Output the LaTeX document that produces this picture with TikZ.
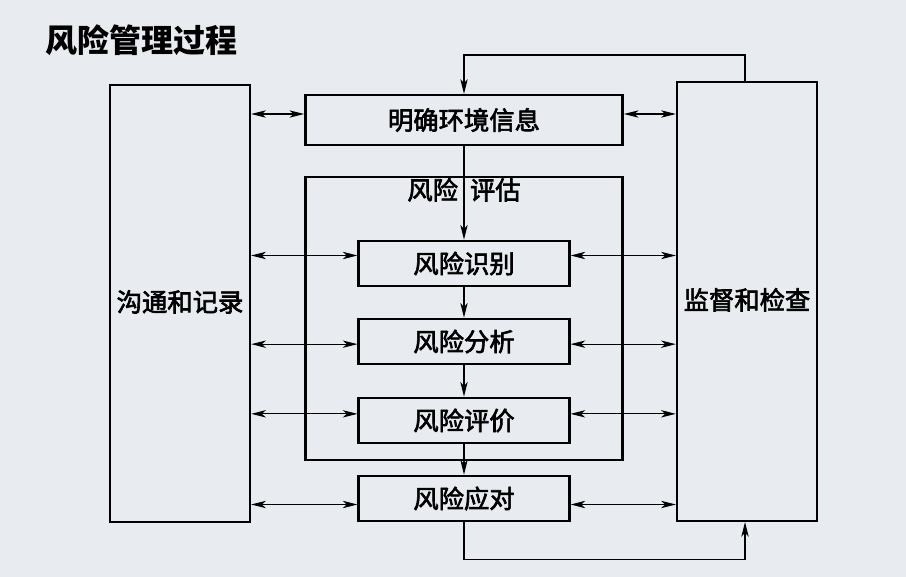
\documentclass[tikz,border=0pt]{standalone}
\usepackage{fontspec}
\setmainfont{Noto Sans CJK SC}
\newfontfamily\boxfont{Noto Sans CJK SC}[FakeBold=2.5]
\usetikzlibrary{arrows.meta}
\definecolor{bgcol}{RGB}{232,235,240}
\tikzset{
  box/.style={draw, line width=1.8pt, inner sep=0pt, font=\boxfont\fontsize{19}{22}\selectfont},
  stepbox/.style={box, minimum width=158pt, minimum height=34pt},
  sidebox/.style={box, minimum width=105pt, minimum height=328pt},
  tip/.tip={Stealth[length=11pt,width=5.5pt,inset=3pt]},
  linkarrow/.style={line width=0.9pt, tip-tip},
  flowarrow/.style={line width=0.9pt, -tip},
}
\begin{document}
\begin{tikzpicture}[x=0.75pt,y=0.75pt,yscale=-1,xscale=1]
\useasboundingbox[fill=bgcol] (0,0) rectangle (906,577);

% Title
\node (title) [anchor=west, inner sep=0pt, font=\fontsize{24}{28}\selectfont\bfseries] at (45,40) {风险管理过程};

% Side boxes
\node (com) [sidebox] at (180,303.5) {\raisebox{4pt}{沟通和记录}};
\node (mon) [sidebox, minimum height=329pt] at (747,301.5) {\raisebox{4pt}{监督和检查}};

% Context box
\node (ctx) [box, minimum width=238pt, minimum height=37.5pt] at (464,120) {明确环境信息};

% Risk assessment frame
\node (asmt) [draw, line width=1.8pt, minimum width=237.75pt, minimum height=212.25pt] at (464,318.5) {};
\node (asmtlabel) [anchor=north, inner sep=1.5pt, font=\boxfont\fontsize{19}{22}\selectfont] at (asmt.north) {风险\hspace{9pt}评估};

% Steps
\node (idf) [stepbox] at (464,263.5) {风险识别};
\node (ana) [stepbox] at (464,341.5) {风险分析};
\node (eva) [stepbox] at (464,420.5) {风险评价};
\node (res) [stepbox] at (464,498.5) {风险应对};

% Main flow
\draw [flowarrow] (ctx.south) -- (idf.north);
\draw [flowarrow] (idf.south) -- (ana.north);
\draw [flowarrow] (ana.south) -- (eva.north);
\draw [flowarrow] (eva.south) -- (res.north);

% Feedback loops
\draw [flowarrow] ([xshift=-1.5pt]mon.north) -- ++(0,-26) -| (ctx.north);
\draw [flowarrow] (res.south) -- ++(0,37) -| ([xshift=-1.5pt]mon.south);

% Links to communication
\draw [linkarrow] ([yshift=-4.5pt]com.east |- ctx.west) -- ([yshift=-4.5pt]ctx.west);
\draw [linkarrow] ([yshift=-6pt]com.east |- idf.west) -- ([yshift=-6pt]idf.west);
\draw [linkarrow] ([yshift=2pt]com.east |- ana.west) -- ([yshift=2pt]ana.west);
\draw [linkarrow] ([yshift=-5pt]com.east |- eva.west) -- ([yshift=-5pt]eva.west);
\draw [linkarrow] ([yshift=4.5pt]com.east |- res.west) -- ([yshift=4.5pt]res.west);

% Links to monitoring
\draw [linkarrow] ([yshift=-4.5pt]ctx.east) -- ([yshift=-4.5pt]mon.west |- ctx.east);
\draw [linkarrow] ([yshift=-6pt]idf.east) -- ([yshift=-6pt]mon.west |- idf.east);
\draw [linkarrow] ([yshift=2pt]ana.east) -- ([yshift=2pt]mon.west |- ana.east);
\draw [linkarrow] ([yshift=-5pt]eva.east) -- ([yshift=-5pt]mon.west |- eva.east);
\draw [linkarrow] ([yshift=4.5pt]res.east) -- ([yshift=4.5pt]mon.west |- res.east);

\end{tikzpicture}
\end{document}
